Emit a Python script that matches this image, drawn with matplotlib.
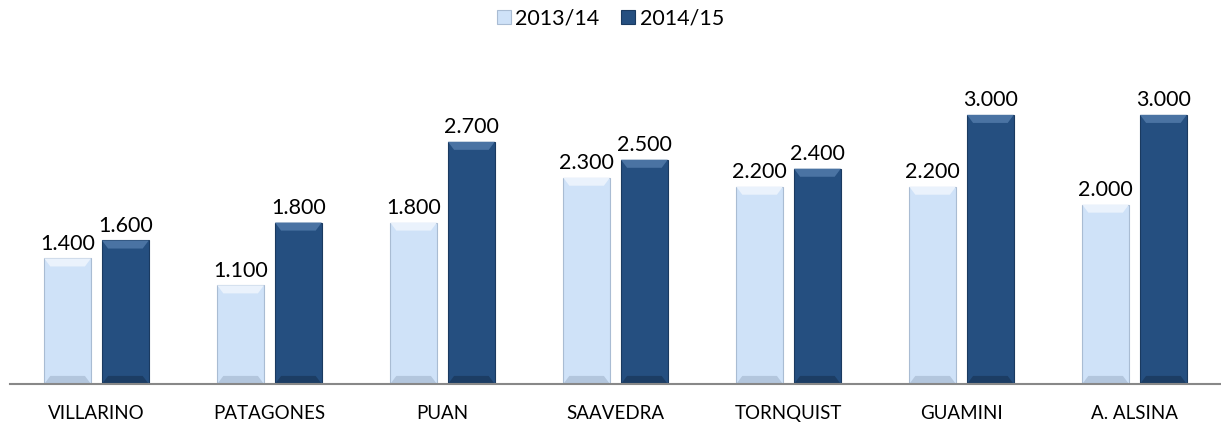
import numpy as np
import matplotlib.pyplot as plt
from matplotlib.patches import Polygon

categories = ["VILLARINO", "PATAGONES", "PUAN", "SAAVEDRA", "TORNQUIST", "GUAMINI", "A. ALSINA"]
series_names = ["2013/14", "2014/15"]
v1314 = [1.4, 1.1, 1.8, 2.3, 2.2, 2.2, 2.0]
v1415 = [1.6, 1.8, 2.7, 2.5, 2.4, 3.0, 3.0]

plt.rcParams['font.family'] = ['Lato', 'DejaVu Sans']

fig = plt.figure(figsize=(12.21, 4.30), dpi=100)
ax = fig.add_axes([10 / 1221, 46 / 430, 1211 / 1221, 314 / 430])

x = np.arange(len(categories))
w = 0.27
off = 0.167
colors = ["#CFE2F8", "#254F80"]
edges = ["#A9BCD3", "#1A3A60"]
tops = ["#EAF2FC", "#4A73A3"]
bottoms = ["#B3C6DD", "#1C3D64"]

bev_x = 0.035   # horizontal inset of the bevel
bev_y = 0.09    # vertical height of the bevel

for vals, sgn, c, ec, tc, bc, name in zip([v1314, v1415], [-1, 1], colors, edges, tops, bottoms, series_names):
    bars = ax.bar(x + sgn * off, vals, width=w, color=c, edgecolor=ec, linewidth=0.8, label=name, zorder=2)
    for b, v in zip(bars, vals):
        x0, x1 = b.get_x(), b.get_x() + b.get_width()
        # bevel: light top band, darker bottom band
        ax.add_patch(Polygon([(x0, v), (x1, v), (x1 - bev_x, v - bev_y), (x0 + bev_x, v - bev_y)],
                             closed=True, facecolor=tc, edgecolor="none", zorder=3))
        ax.add_patch(Polygon([(x0, 0), (x1, 0), (x1 - bev_x, bev_y), (x0 + bev_x, bev_y)],
                             closed=True, facecolor=bc, edgecolor="none", zorder=3))
        ax.text((x0 + x1) / 2, v + 0.05, f"{v:.3f}",
                ha="center", va="bottom", fontsize=15.5, color="black")

ax.set_xlim(-0.5, len(categories) - 0.5)
ax.set_ylim(0, 3.5)
ax.set_xticks(x)
ax.set_xticklabels(categories, fontsize=13.5)
ax.tick_params(axis="x", length=0, pad=15)
ax.set_yticks([])
for s in ["top", "right", "left"]:
    ax.spines[s].set_visible(False)
ax.spines["bottom"].set_color("#888888")
ax.spines["bottom"].set_linewidth(1.5)
ax.spines["bottom"].set_zorder(4)

fig.legend(loc="upper center", bbox_to_anchor=(0.5, 1.025), ncol=2, frameon=False,
           fontsize=15.5, handlelength=0.65, handleheight=0.65, handletextpad=0.2, columnspacing=1.0)

fig.savefig("out.png", dpi=100)
